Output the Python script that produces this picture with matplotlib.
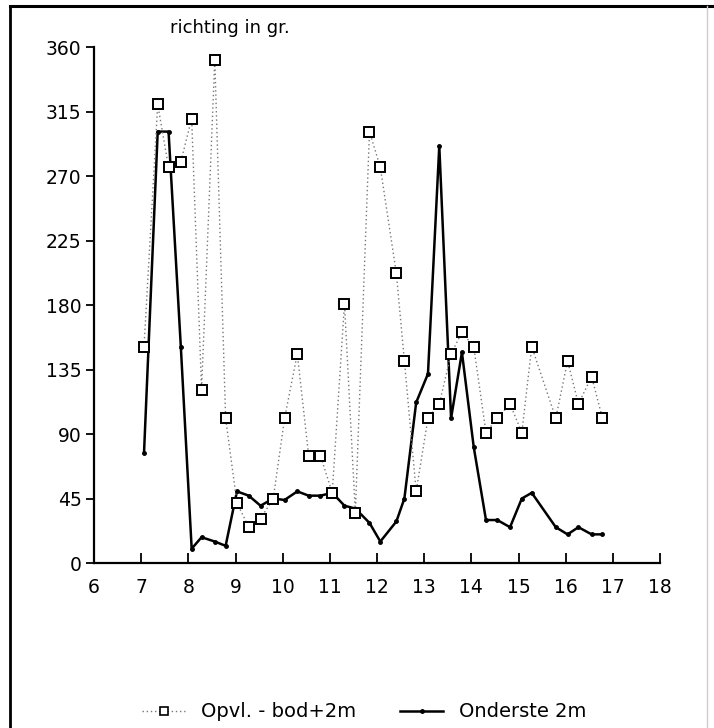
import matplotlib
matplotlib.use("Agg")
import matplotlib.pyplot as plt
from matplotlib.lines import Line2D

# tijdstippen (uur) en richting in graden
tijd = [7.06, 7.35, 7.58, 7.84, 8.07, 8.28, 8.56, 8.79, 9.03, 9.28, 9.53, 9.80,
        10.04, 10.31, 10.55, 10.80, 11.05, 11.31, 11.54, 11.84, 12.07, 12.41, 12.58,
        12.83, 13.08, 13.32, 13.57, 13.80, 14.05, 14.31, 14.55, 14.82, 15.07, 15.28,
        15.79, 16.04, 16.27, 16.55, 16.78]
opvl_bod = [151, 320, 276, 280, 310, 121, 351, 101, 42, 25, 31, 45,
            101, 146, 75, 75, 49, 181, 35, 301, 276, 202, 141,
            50, 101, 111, 146, 161, 151, 91, 101, 111, 91, 151,
            101, 141, 111, 130, 101]
onderste = [77, 301, 301, 151, 10, 18, 15, 12, 50, 47, 40, 45,
            44, 50, 47, 47, 49, 40, 38, 28, 15, 29, 45,
            112, 132, 291, 101, 147, 81, 30, 30, 25, 45, 49,
            25, 20, 25, 20, 20]

x_ticks = list(range(6, 19))
y_ticks = list(range(0, 361, 45))

plt.rcParams["font.family"] = ["DejaVu Sans"]

fig = plt.figure(figsize=(7.14, 7.28), dpi=100)
ax = fig.add_axes([0.1317, 0.2266, 0.7927, 0.7088])

ax.plot(tijd, opvl_bod, linestyle=(0, (1, 2)), color="#777777", lw=1.0,
        marker="s", ms=7.5, mfc="white", mec="black", mew=1.4, zorder=3)
ax.plot(tijd, onderste, "-", color="black", lw=1.8,
        marker="o", ms=2.5, zorder=2)

ax.set_xlim(6, 18)
ax.set_ylim(0, 360)
ax.set_xticks(x_ticks)
ax.set_yticks(y_ticks)
ax.tick_params(axis="x", direction="in", length=7, width=1.3, labelsize=13.5, pad=11)
ax.tick_params(axis="y", direction="out", length=6, width=1.3, labelsize=13.5, pad=3)
for s in ["top", "right"]:
    ax.spines[s].set_visible(False)
for s in ["left", "bottom"]:
    ax.spines[s].set_linewidth(1.6)

fig.text(0.322, 0.961, "richting in gr.", fontsize=13, ha="center", va="center")

handles = [Line2D([], [], linestyle=(0, (1, 2)), color="#777777", lw=1.0,
                  marker="s", ms=6, mfc="white", mec="black", mew=1.2),
           Line2D([], [], linestyle="-", color="black", lw=1.8, marker="o", ms=2.5)]
fig.legend(handles, ["Opvl. - bod+2m", "Onderste 2m"], loc="center",
           bbox_to_anchor=(0.51, 0.022), ncol=2, frameon=False, fontsize=14,
           handlelength=2.2, columnspacing=2.3)

# omlijsting
fig.add_artist(Line2D([0.014, 1.0], [0.992, 0.992], color="black", lw=2.2))
fig.add_artist(Line2D([0.014, 0.014], [0.0, 0.992], color="black", lw=2.0))
fig.add_artist(Line2D([0.99, 0.99], [0.0, 0.992], color="#cccccc", lw=1.0))

fig.savefig("out.png", dpi=100)
